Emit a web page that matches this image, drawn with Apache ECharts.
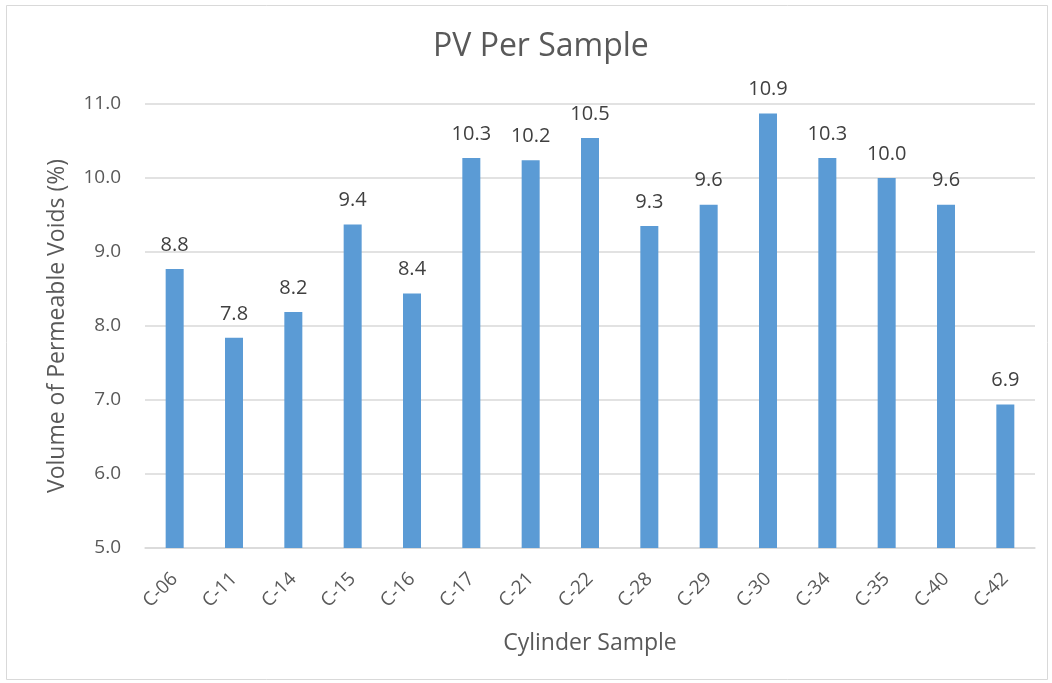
<!DOCTYPE html>
<html>
<head>
<meta charset="utf-8">
<script src="https://cdn.jsdelivr.net/npm/echarts@6/dist/echarts.min.js"></script>
<style>
  html, body { margin: 0; padding: 0; background: #fff; }
  #chart { width: 1052px; height: 683px; }
</style>
</head>
<body>
<div id="chart"></div>
<script>
// Permeable void volume per cylinder sample
const samples = ['C-06','C-11','C-14','C-15','C-16','C-17','C-21','C-22','C-28','C-29','C-30','C-34','C-35','C-40','C-42'];
const pvValues = [8.77, 7.84, 8.19, 9.37, 8.44, 10.27, 10.24, 10.54, 9.35, 9.64, 10.87, 10.27, 10.0, 9.64, 6.94];
const yTicks = [5.0, 6.0, 7.0, 8.0, 9.0, 10.0, 11.0];

const font = '"Open Sans", sans-serif';
const textGray = '#595959';

const chart = echarts.init(document.getElementById('chart'), null, { renderer: 'canvas' });
chart.setOption({
  animation: false,
  backgroundColor: '#ffffff',
  textStyle: { fontFamily: font },
  title: {
    text: 'PV Per Sample',
    left: 428,
    top: 26,
    textStyle: { fontFamily: font, fontSize: 32, fontWeight: 'normal', color: textGray }
  },
  graphic: [{
    type: 'rect',
    shape: { x: 6.5, y: 5.5, width: 1041, height: 674 },
    style: { fill: 'none', stroke: '#D9D9D9', lineWidth: 1 },
    silent: true
  }],
  grid: { left: 145, right: 17, top: 104, bottom: 135 },
  xAxis: {
    type: 'category',
    data: samples,
    name: 'Cylinder Sample',
    nameLocation: 'middle',
    nameGap: 84,
    nameTextStyle: { fontFamily: font, fontSize: 23, color: textGray },
    axisLine: { lineStyle: { color: '#D9D9D9', width: 1.5 } },
    axisTick: { show: false },
    axisLabel: { rotate: 45, margin: 28, fontFamily: font, fontSize: 19, color: textGray }
  },
  yAxis: {
    type: 'value',
    min: yTicks[0],
    max: yTicks[yTicks.length - 1],
    interval: 1,
    name: 'Volume of Permeable Voids (%)',
    nameLocation: 'middle',
    nameGap: 76,
    nameRotate: 90,
    nameTextStyle: { fontFamily: font, fontSize: 23, color: textGray },
    axisLine: { show: false },
    axisTick: { show: false },
    axisLabel: {
      margin: 24,
      fontFamily: font,
      fontSize: 19,
      color: textGray,
      formatter: v => v.toFixed(1)
    },
    splitLine: { lineStyle: { color: '#D9D9D9', width: 1.5 } }
  },
  series: [{
    type: 'bar',
    data: pvValues,
    barWidth: 18,
    itemStyle: { color: '#5B9BD5' },
    label: {
      show: true,
      position: 'top',
      distance: 14,
      fontFamily: font,
      fontSize: 20,
      color: '#404040',
      formatter: p => p.value.toFixed(1)
    }
  }]
});
</script>
</body>
</html>
